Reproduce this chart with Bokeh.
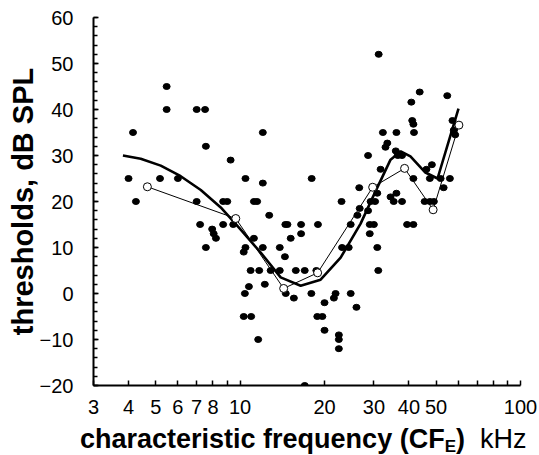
from bokeh.plotting import figure
from bokeh.models import Range1d, FixedTicker, SingleIntervalTicker, ColumnDataSource, Div
from bokeh.layouts import column
from bokeh.embed import file_html
from bokeh.resources import INLINE

# ---- data (kHz, dB SPL) ----
cf_khz = [4.15, 4.0, 4.25, 5.47, 5.47, 5.18, 6.0, 7.0, 7.5, 7.55, 7.0, 9.25, 8.7, 9.0,
          7.2, 7.55, 7.95, 8.05, 8.2, 8.7, 9.45, 10.45, 12.05, 12.05, 11.2, 11.5, 12.7,
          11.2, 10.45, 10.3, 12.05, 10.9, 11.7, 12.25, 10.75, 10.4, 10.3, 10.95, 11.6,
          12.85, 13.85, 13.85, 14.45, 14.5, 14.75, 15.15, 16.5, 16.5, 18.95, 18.0,
          15.8, 17.0, 18.7, 14.55, 15.55, 17.95, 20.0, 21.9, 21.6, 18.85, 19.65, 20.0,
          22.5, 22.5, 22.5, 17.0, 23.1, 24.4, 24.8, 26.0, 23.0, 24.8, 26.2, 26.7, 28.6,
          29.0, 30.0, 29.0, 30.85, 31.1, 39.4, 41.5, 26.6, 28.6, 31.7, 31.2, 32.3, 36.1,
          33.5, 33.0, 35.9, 36.5, 37.8, 30.85, 29.2, 30.3, 34.4, 36.1, 35.3, 37.8,
          40.8, 43.7, 54.8, 41.1, 41.5, 41.7, 41.5, 46.2, 48.3, 47.5, 51.9, 56.0, 53.2,
          45.5, 47.5, 49.1, 57.2, 57.8, 58.5]
thr_db = [35, 25, 20, 45, 40, 25, 25, 40, 40, 32, 20, 29, 20, 20,
          15, 10, 14, 13, 12, 15, 15, 25, 35, 24, 20, 20, 17,
          12, 10, 9, 10, 5, 5, 2, 1.5, 0, -5, -5, -10,
          5, 5, 10, 8, 15, 15, 12, 15, 13, 15, 25,
          5, 5, 5, 0, -1, 0, -2, 0, -1, -5, -5, -8,
          -9, -10, -12, -20, 10, 10, 0, -3, 20, 15, 17, 18.5, 18,
          15, 15, 13, 10, 5, 15, 15, 23, 30, 27, 52, 35, 35,
          32.7, 31.8, 31, 30, 30, 21.8, 20, 20, 21, 21.8, 20, 20,
          41.6, 43.8, 43, 37.6, 36.8, 35, 25, 27, 28, 25, 25, 25, 23,
          20, 20, 20, 37.6, 35.5, 34.5]

mean_khz = [4.67, 9.65, 14.3, 18.9, 29.7, 38.6, 48.8, 60.3]
mean_db = [23.2, 16.3, 1.1, 4.5, 23.1, 27.2, 18.2, 36.6]

fit_khz = [3.82, 4.42, 5.21, 6.14, 7.24, 8.53, 10.05, 11.84, 13.95, 16.44, 19.37,
           22.83, 26.9, 30.4, 34.4, 37.4, 40.5, 45.8, 50.6, 60.1]
fit_db = [30.0, 29.3, 27.8, 25.5, 22.5, 18.7, 13.9, 8.9, 3.5, 1.7, 3.0,
          7.8, 15.2, 22.2, 29.1, 30.9, 29.8, 26.3, 25.0, 40.2]

x_ticks = [3, 4, 5, 6, 7, 8, 9, 10, 20, 30, 40, 50, 60, 70, 80, 90, 100]
x_tick_labels = ["3", "4", "5", "6", "7", "8", "", "10", "20", "30", "40", "50", "", "", "", "", "100"]

FONT = "Liberation Sans"

p = figure(width=539, height=425, x_axis_type="log",
           x_range=Range1d(3, 100), y_range=Range1d(-20, 60),
           output_backend="svg", toolbar_location=None,
           min_border_left=93, min_border_right=19, min_border_top=17, min_border_bottom=40,
           margin=0)
p.outline_line_color = None
p.xgrid.visible = False
p.ygrid.visible = False
p.background_fill_color = "white"
p.border_fill_color = "white"

p.xaxis.ticker = FixedTicker(ticks=x_ticks)
p.xaxis.major_label_overrides = {t: l for t, l in zip(x_ticks, x_tick_labels)}
p.yaxis.ticker = SingleIntervalTicker(interval=10, num_minor_ticks=5)

for ax in (p.xaxis[0], p.yaxis[0]):
    ax.axis_line_width = 2
    ax.axis_line_color = "black"
    ax.major_tick_in = 5
    ax.major_tick_out = 0
    ax.minor_tick_in = 4
    ax.minor_tick_out = 0
    ax.major_tick_line_width = 1.5
    ax.minor_tick_line_width = 1.5
    ax.major_tick_line_color = "black"
    ax.minor_tick_line_color = "black"
    ax.major_label_text_font = FONT
    ax.major_label_text_font_size = "20px"
    ax.major_label_text_color = "black"
p.xaxis.minor_tick_line_color = None
p.xaxis.major_label_standoff = 14
p.yaxis.major_label_standoff = 20

p.yaxis.axis_label = "thresholds, dB SPL"
p.yaxis.axis_label_text_font = FONT
p.yaxis.axis_label_text_font_size = "29px"
p.yaxis.axis_label_text_font_style = "bold"
p.yaxis.axis_label_text_color = "black"
p.yaxis.axis_label_standoff = -2

src = ColumnDataSource(dict(f=cf_khz, v=thr_db))
p.ellipse(x="f", y="v", width=7, height=6, width_units="screen", height_units="screen",
          source=src, fill_color="black", line_color="black")
p.line(fit_khz, fit_db, line_color="black", line_width=2.6)
p.line(mean_khz, mean_db, line_color="black", line_width=1)
p.scatter(mean_khz, mean_db, marker="circle", size=8, fill_color="white",
          line_color="black", line_width=1)

xtitle = Div(
    text=('<span style="font-weight:bold">characteristic frequency (CF'
          '<span style="font-size:17px;position:relative;top:4px">E</span>)</span>'
          '&nbsp;&nbsp;kHz'),
    width=539, height=30, margin=0,
    styles={"font-family": FONT, "font-size": "27px", "line-height": "28px",
            "color": "black", "white-space": "nowrap", "padding-left": "80px",
            "box-sizing": "border-box"})

layout = column(p, xtitle, spacing=0, margin=0)
open("out.html", "w").write(file_html(layout, INLINE))
